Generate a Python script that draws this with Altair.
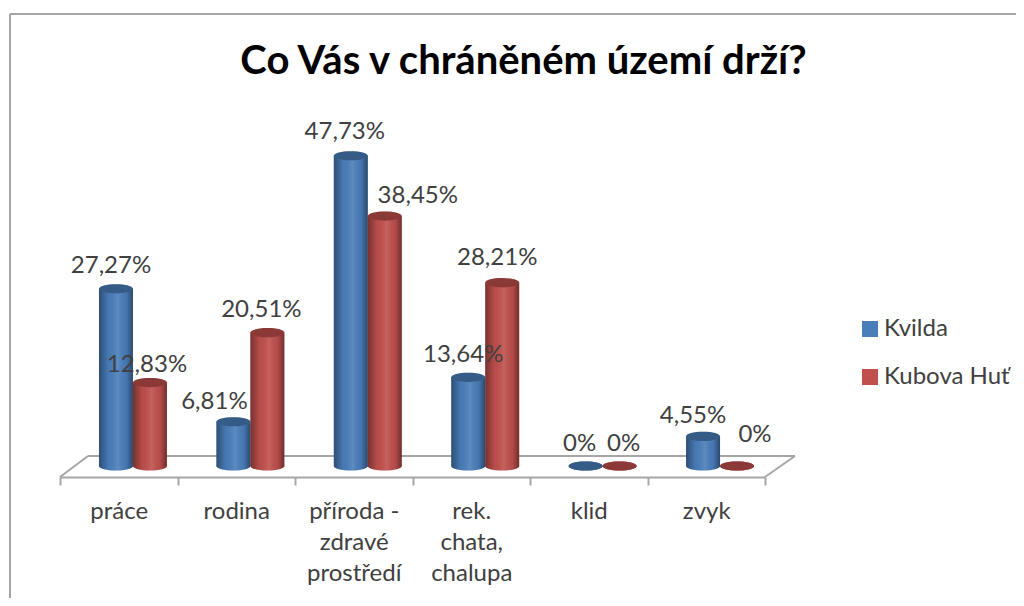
import altair as alt
import pandas as pd

categories = ["práce", "rodina", "příroda -\nzdravé\nprostředí", "rek.\nchata,\nchalupa", "klid", "zvyk"]
kvilda = [27.27, 6.81, 47.73, 13.64, 0, 4.55]
kubova = [12.83, 20.51, 38.45, 28.21, 0, 0]
kvilda_labels = ["27,27%", "6,81%", "47,73%", "13,64%", "0%", "4,55%"]
kubova_labels = ["12,83%", "20,51%", "38,45%", "28,21%", "0%", "0%"]
series = ["Kvilda", "Kubova Huť"]
colors = ["#4a7ebb", "#c0504d"]

# hand-placed label nudges (dx, dy), as in the reference
kvilda_nudge = [(-5, -23), (-19, -20), (-6, -24), (-5, -22), (-6, -22), (-10, -20)]
kubova_nudge = [(-3, -18), (-6, -23), (33, -20), (-5, -25), (4, -22), (18, -31)]

rows = []
for i, c in enumerate(categories):
    rows.append(dict(cat=c, series=series[0], value=kvilda[i], label=kvilda_labels[i], base=0))
    rows.append(dict(cat=c, series=series[1], value=kubova[i], label=kubova_labels[i], base=0))
df = pd.DataFrame(rows)

FONT = "Lato"
GREY = "#a6a6a6"
TEXT = "#404040"
ELLIPSE = "M-1,0A1,0.27,0,1,1,1,0A1,0.27,0,1,1,-1,0Z"
W, H = 705, 336

x_bars = alt.X("cat:N", sort=categories, axis=None,
               scale=alt.Scale(type="band", domain=categories, range=[14, 719],
                               paddingInner=0.4213, paddingOuter=0.2128))
x_off = alt.XOffset("series:N", sort=series, scale=alt.Scale(domain=series))
y_val = alt.Y("value:Q", axis=None, stack=None, scale=alt.Scale(domain=[-1.692, 50], nice=False, zero=False))
y_base = alt.Y("base:Q", axis=None, stack=None, scale=alt.Scale(domain=[-1.692, 50], nice=False, zero=False))
col = alt.Color(
    "series:N", sort=series, scale=alt.Scale(domain=series, range=colors),
    legend=alt.Legend(title=None, orient="none", legendX=798, legendY=176,
                      symbolType="square", symbolSize=256, symbolStrokeWidth=0,
                      symbolOpacity=1, labelFont=FONT, labelFontSize=24, labelColor=TEXT,
                      labelOffset=2, labelLimit=200, rowPadding=24, padding=0),
)

shade = alt.Gradient(
    gradient="linear", x1=0, x2=1, y1=0, y2=0,
    stops=[
        alt.GradientStop(offset=0, color="rgba(0,0,0,0.38)"),
        alt.GradientStop(offset=0.28, color="rgba(0,0,0,0.04)"),
        alt.GradientStop(offset=0.55, color="rgba(255,255,255,0.10)"),
        alt.GradientStop(offset=0.8, color="rgba(0,0,0,0.06)"),
        alt.GradientStop(offset=1, color="rgba(0,0,0,0.42)"),
    ],
)

base = alt.Chart(df)
ell = dict(shape=ELLIPSE, filled=True, size=1156, strokeWidth=0, opacity=1)

data_layers = [
    base.mark_point(**ell).encode(x=x_bars, xOffset=x_off, y=y_base, color=col),
    base.mark_point(shape=ELLIPSE, filled=True, size=1156, strokeWidth=0, opacity=1, fill=shade)
        .encode(x=x_bars, xOffset=x_off, y=y_base),
    base.mark_bar().encode(x=x_bars, xOffset=x_off, y=y_val, color=col),
    base.mark_bar(fill=shade).encode(x=x_bars, xOffset=x_off, y=y_val),
    base.mark_point(**ell).encode(x=x_bars, xOffset=x_off, y=y_val, color=col),
    base.mark_point(shape=ELLIPSE, filled=True, size=1156, strokeWidth=0, opacity=0.28, fill="#000000")
        .encode(x=x_bars, xOffset=x_off, y=y_val),
]

for s, nudges in zip(series, (kvilda_nudge, kubova_nudge)):
    for c, (dx, dy) in zip(categories, nudges):
        sub = df[(df.series == s) & (df.cat == c)]
        data_layers.append(
            alt.Chart(sub).mark_text(dx=dx, dy=dy, font=FONT, fontSize=24, color=TEXT)
            .encode(x=x_bars, xOffset=x_off, y=y_val, text="label:N")
        )

axis_layer = alt.Chart(pd.DataFrame({"cat": categories})).mark_point(opacity=0).encode(
    x=alt.X("cat:N", sort=categories, title=None,
            scale=alt.Scale(type="band", domain=categories, paddingInner=0, paddingOuter=0),
            axis=alt.Axis(labelExpr="split(datum.label, '\\n')", labelAngle=0, labelFont=FONT,
                          labelFontSize=24, labelColor=TEXT, labelLineHeight=31, labelPadding=14,
                          labelLimit=200, domainColor=GREY, domainWidth=2, tickColor=GREY,
                          tickWidth=2, tickSize=8, tickBand="extent", grid=False))
)

def seg(x1, x2, y1, y2, color=GREY, w=2):
    return alt.Chart(pd.DataFrame({"a": [0]})).mark_rule(color=color, strokeWidth=w).encode(
        x=alt.value(x1), x2=alt.value(x2), y=alt.value(y1), y2=alt.value(y2))

frame = [
    seg(28, 735, 315, 315),      # back edge of the floor
    seg(0, 28, H, 315),          # left edge
    seg(705, 735, H, 315),       # right edge
    seg(-50, -50, -127, 457),    # outer chart border
    seg(-50, 956, -127, -127),
]

chart = alt.layer(*frame, axis_layer, alt.layer(*data_layers)).resolve_scale(x="independent").properties(
    width=W, height=H,
    autosize=alt.AutoSizeParams(type="none"),
    padding={"left": 52, "top": 133, "right": 251, "bottom": 121},
    title=alt.TitleParams("Co Vás v chráněném území drží?", font=FONT, fontSize=40, fontWeight="bold",
                          color="#000000", anchor="middle", dx=111, dy=69, offset=0),
    background="white",
).configure_view(stroke=None)

chart.save("out.html", embed_options={"renderer": "svg", "actions": False})
